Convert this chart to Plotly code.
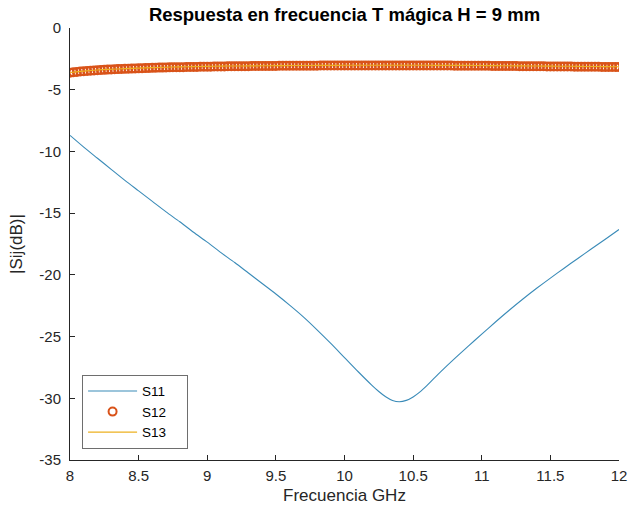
import plotly.graph_objects as go

# ---- data ----
freq_s11 = [8.0, 8.1, 8.2, 8.3, 8.4, 8.5, 8.6, 8.7, 8.8, 8.9,
            9.0, 9.1, 9.2, 9.3, 9.4, 9.5, 9.6, 9.7, 9.8, 9.9,
            10.0, 10.1, 10.2, 10.25, 10.3, 10.35, 10.4, 10.45, 10.5, 10.55,
            10.6, 10.65, 10.7, 10.8, 10.9, 11.0, 11.1, 11.2, 11.3, 11.4,
            11.5, 11.6, 11.7, 11.8, 11.9, 12.0]
s11 = [-8.7, -9.65, -10.55, -11.45, -12.35, -13.2, -14.05, -14.9, -15.7, -16.55,
       -17.35, -18.2, -19.0, -19.85, -20.7, -21.55, -22.45, -23.4, -24.45, -25.55,
       -26.7, -27.85, -28.95, -29.45, -29.88, -30.18, -30.28, -30.17, -29.89, -29.48,
       -28.97, -28.41, -27.86, -26.81, -25.8, -24.8, -23.82, -22.87, -21.96, -21.09,
       -20.26, -19.46, -18.67, -17.89, -17.11, -16.33]

freq_s12 = [round(8 + 0.025 * i, 3) for i in range(161)]
s12 = [-3.62, -3.59, -3.56, -3.53, -3.51, -3.48, -3.46, -3.44, -3.42, -3.40,
       -3.39, -3.37, -3.36, -3.34, -3.33, -3.32, -3.31, -3.30, -3.29, -3.28,
       -3.27, -3.26, -3.25, -3.24, -3.23, -3.22, -3.21, -3.21, -3.20, -3.19,
       -3.18, -3.18, -3.17, -3.17, -3.16, -3.16, -3.15, -3.15, -3.14, -3.14,
       -3.13, -3.13, -3.12, -3.12, -3.11, -3.11, -3.10, -3.10, -3.10, -3.09,
       -3.09, -3.09, -3.09, -3.08, -3.08, -3.08, -3.08, -3.07, -3.07, -3.07,
       -3.07, -3.06, -3.06, -3.06, -3.06, -3.06, -3.06, -3.05, -3.05, -3.05,
       -3.05, -3.05, -3.05, -3.04, -3.04, -3.04, -3.04, -3.04, -3.04, -3.04,
       -3.04, -3.03, -3.03, -3.03, -3.03, -3.03, -3.03, -3.03, -3.03, -3.03,
       -3.03, -3.03, -3.03, -3.03, -3.03, -3.03, -3.03, -3.03, -3.03, -3.03,
       -3.03, -3.03, -3.03, -3.04, -3.04, -3.04, -3.04, -3.04, -3.04, -3.04,
       -3.04, -3.04, -3.05, -3.05, -3.05, -3.05, -3.05, -3.06, -3.06, -3.06,
       -3.06, -3.06, -3.06, -3.07, -3.07, -3.07, -3.07, -3.08, -3.08, -3.08,
       -3.08, -3.09, -3.09, -3.09, -3.09, -3.10, -3.10, -3.10, -3.10, -3.11,
       -3.11, -3.11, -3.11, -3.12, -3.12, -3.12, -3.12, -3.13, -3.13, -3.13,
       -3.13, -3.14, -3.14, -3.14, -3.14, -3.15, -3.15, -3.15, -3.15, -3.16,
       -3.16]

freq_s13 = [8.0, 8.1, 8.2, 8.3, 8.4, 8.5, 8.6, 8.7, 8.8, 8.9,
            9.0, 9.1, 9.2, 9.3, 9.4, 9.5, 9.6, 9.7, 9.8, 9.9,
            10.0, 10.1, 10.2, 10.3, 10.4, 10.5, 10.6, 10.7, 10.8, 10.9,
            11.0, 11.1, 11.2, 11.3, 11.4, 11.5, 11.6, 11.7, 11.8, 11.9, 12.0]
s13 = [-3.60, -3.49, -3.40, -3.34, -3.29, -3.25, -3.21, -3.18, -3.15, -3.13,
       -3.11, -3.09, -3.08, -3.07, -3.06, -3.05, -3.04, -3.04, -3.03, -3.03,
       -3.02, -3.02, -3.02, -3.02, -3.02, -3.02, -3.02, -3.03, -3.03, -3.03,
       -3.04, -3.05, -3.06, -3.07, -3.08, -3.09, -3.10, -3.11, -3.12, -3.13, -3.14]

x_ticks = [8, 8.5, 9, 9.5, 10, 10.5, 11, 11.5, 12]
x_tick_labels = ["8", "8.5", "9", "9.5", "10", "10.5", "11", "11.5", "12"]
y_ticks = [0, -5, -10, -15, -20, -25, -30, -35]
y_tick_labels = ["0", "-5", "-10", "-15", "-20", "-25", "-30", "-35"]

FONT = "Liberation Sans, Arial, sans-serif"
AX = "#262626"
PAD = "\u00a0" * 4  # extra room on the right of legend labels, as in the reference box

W, H = 628, 513

fig = go.Figure()
fig.add_trace(go.Scatter(x=freq_s11, y=s11, mode="lines", name="S11" + PAD,
                         line=dict(color="#3A8BB8", width=1.1, shape="spline", smoothing=0.8)))
fig.add_trace(go.Scatter(x=freq_s12, y=s12, mode="markers", name="S12" + PAD,
                         marker=dict(symbol="circle-open", size=8, color="#D95319",
                                     line=dict(width=2, color="#D95319"))))
fig.add_trace(go.Scatter(x=freq_s13, y=s13, mode="lines", name="S13" + PAD,
                         line=dict(color="#EDB120", width=1.1, shape="spline")))

fig.update_layout(
    width=W, height=H,
    margin=dict(l=70, r=9, t=28, b=53, autoexpand=False),
    paper_bgcolor="white", plot_bgcolor="white",
    font=dict(family=FONT, size=15, color=AX),
    title=dict(text="<b>Respuesta en frecuencia T mágica H = 9 mm</b>",
               x=0.5, xref="paper", xanchor="center",
               y=1 - 15 / H, yref="container", yanchor="middle",
               font=dict(family=FONT, size=18.5, color="black")),
    showlegend=True,
    legend=dict(x=0.022, y=0.026, xanchor="left", yanchor="bottom",
                bgcolor="white", bordercolor="#6e6e6e", borderwidth=1,
                font=dict(family=FONT, size=13.5, color="black"),
                itemwidth=49, tracegroupgap=0),
)
fig.update_xaxes(range=[8, 12], tickvals=x_ticks, ticktext=x_tick_labels,
                 showgrid=False, zeroline=False, showline=True, linecolor=AX, linewidth=1,
                 ticks="inside", ticklen=5, tickcolor=AX, mirror=False, automargin=False,
                 ticklabelstandoff=2,
                 tickfont=dict(family=FONT, size=15, color=AX),
                 title=dict(text="Frecuencia GHz", standoff=6,
                            font=dict(family=FONT, size=17, color=AX)))
fig.update_yaxes(range=[-35, 0], tickvals=y_ticks, ticktext=y_tick_labels,
                 showgrid=False, zeroline=False, showline=True, linecolor=AX, linewidth=1,
                 ticks="inside", ticklen=5, tickcolor=AX, mirror=False, automargin=False,
                 ticklabelstandoff=5,
                 tickfont=dict(family=FONT, size=15, color=AX),
                 title=dict(text="|Sij(dB)|", standoff=12,
                            font=dict(family=FONT, size=17, color=AX)))

# remove the default 8px page margin so the figure fills the 628x513 window
fig.write_html("out.html",
               config={"displayModeBar": False},
               post_script="document.body.style.margin='0';document.body.style.overflow='hidden';")
